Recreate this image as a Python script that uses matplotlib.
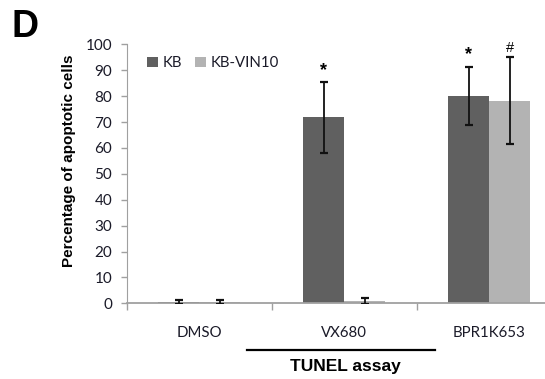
import matplotlib
matplotlib.use("Agg")
import matplotlib.pyplot as plt
import numpy as np

categories = ["DMSO", "VX680", "BPR1K653"]
series_names = ["KB", "KB-VIN10"]
kb_values = [0.5, 71.8, 80.2]
kb_errors = [0.8, 13.6, 11.2]
vin_values = [0.5, 0.8, 78.2]
vin_errors = [0.8, 1.1, 16.8]
kb_marks = ["", "*", "*"]
vin_marks = ["", "", "#"]
yticks = [0, 10, 20, 30, 40, 50, 60, 70, 80, 90, 100]

dark = "#606060"
light = "#b3b3b3"
tickcol = "#1a1a28"
axcol = "#a0a0a0"

W, H = 545, 379
fig = plt.figure(figsize=(W / 100, H / 100), dpi=100)
x0, xr, y0, y100 = 126.7, 545.0, 303.3, 44.3
ax = fig.add_axes([x0 / W, 1 - y0 / H, (xr - x0) / W, (y0 - y100) / H])

x = np.arange(len(categories))
bw = 0.284
ax.bar(x - bw / 2, kb_values, bw, color=dark, label=series_names[0], zorder=2)
ax.bar(x + bw / 2, vin_values, bw, color=light, label=series_names[1], zorder=2)
ekw = dict(fmt="none", ecolor="#111111", elinewidth=1.3, capsize=2.6,
           capthick=1.6, zorder=3)
ax.errorbar(x - bw / 2, kb_values, yerr=kb_errors, **ekw)
ax.errorbar(x + bw / 2, vin_values, yerr=vin_errors, **ekw)

for xi, v, e, m in zip(x - bw / 2, kb_values, kb_errors, kb_marks):
    if m:
        ax.text(xi, v + e + 1.2, m, ha="center", va="bottom", fontsize=13,
                fontweight="bold", family="Liberation Sans")
for xi, v, e, m in zip(x + bw / 2, vin_values, vin_errors, vin_marks):
    if m:
        ax.text(xi, v + e + 1.0, m, ha="center", va="bottom", fontsize=10.5,
                family="Liberation Sans")

ax.set_ylim(0, 100)
ax.set_xlim(-0.5, -0.5 + (xr - x0) / 145.0)
ax.set_yticks(yticks)
ax.set_yticklabels([str(t) for t in yticks], fontsize=11, color=tickcol,
                   family="Lato")
ax.set_xticks([-0.5, 0.5, 1.5])
ax.set_xticklabels([])
ax.tick_params(axis="x", length=5, color=axcol, width=1)
ax.tick_params(axis="y", length=4.5, color=axcol, width=1, pad=6)
ax.spines["top"].set_visible(False)
ax.spines["right"].set_visible(False)
ax.spines["left"].set_color(axcol)
ax.spines["bottom"].set_color(axcol)
ax.spines["bottom"].set_linewidth(1.3)

for xi, c in zip(x, categories):
    ax.text(xi, -30 / 259.0, c, transform=ax.get_xaxis_transform(), ha="center",
            va="center", fontsize=10.8, color=tickcol, family="Lato")

ax.set_ylabel("Percentage of apoptotic cells", fontsize=11, fontweight="bold",
              family="Liberation Sans")
ax.yaxis.set_label_coords((76 - x0) / (xr - x0), (y0 - 160.5) / (y0 - y100))

leg = ax.legend(loc="center left",
                bbox_to_anchor=((147 - x0) / (xr - x0), (y0 - 63) / (y0 - y100)),
                frameon=False, ncol=2, fontsize=10.8, handlelength=0.7,
                handleheight=0.7, handletextpad=0.35, columnspacing=0.85,
                borderaxespad=0, borderpad=0)
for t in leg.get_texts():
    t.set_family("Lato")
    t.set_color(tickcol)

fig.text(11 / W, 1 - 37 / H, "D", fontsize=27, fontweight="bold",
         family="Liberation Sans", va="baseline", ha="left")
fig.add_artist(plt.Line2D([247 / W, 435 / W], [1 - 350 / H, 1 - 350 / H],
                          color="black", lw=1.6))
fig.text(345 / W, 1 - 366 / H, "TUNEL assay", fontsize=12.5, fontweight="bold",
         family="Liberation Sans", ha="center", va="center")

fig.savefig("out.png", dpi=100)
